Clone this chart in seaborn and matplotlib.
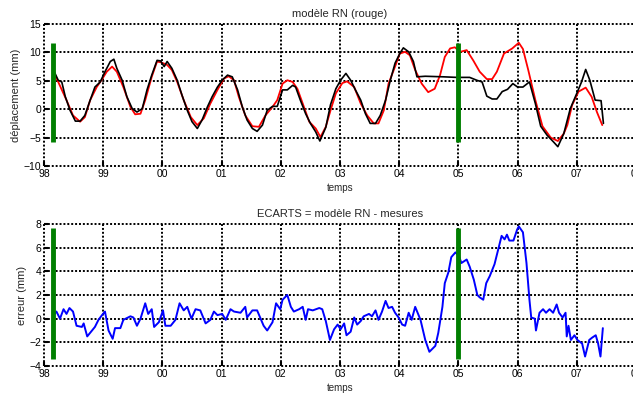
import matplotlib
matplotlib.use("Agg")
import matplotlib.pyplot as plt
import seaborn as sns
import pandas as pd

# time axis: years since 1998
x_tick_pos = list(range(0, 11))
x_tick_labels = ["98", "99", "00", "01", "02", "03", "04", "05", "06", "07", "08"]

# measured displacement (black)
t_mes = [0.16, 0.24, 0.30, 0.36, 0.44, 0.53, 0.61, 0.69, 0.78, 0.86, 0.95, 1.03, 1.12, 1.18, 1.23,
         1.32, 1.40, 1.49, 1.57, 1.66, 1.74, 1.82, 1.91, 1.97, 2.03, 2.08, 2.16, 2.25, 2.33, 2.42,
         2.50, 2.59, 2.67, 2.76, 2.84, 2.93, 3.01, 3.10, 3.18, 3.27, 3.35, 3.43, 3.52, 3.60, 3.69,
         3.77, 3.86, 3.94, 4.03, 4.11, 4.20, 4.25, 4.33, 4.42, 4.50, 4.59, 4.66, 4.76, 4.84, 4.93,
         5.01, 5.10, 5.18, 5.26, 5.35, 5.43, 5.51, 5.60, 5.68, 5.77, 5.85, 5.93, 6.01, 6.07, 6.16,
         6.24, 6.30, 6.44, 6.75, 6.97, 7.19, 7.31, 7.40, 7.48, 7.57, 7.65, 7.74, 7.83, 7.92, 8.00,
         8.09, 8.20, 8.30, 8.39, 8.50, 8.61, 8.68, 8.78, 8.89, 9.00, 9.08, 9.15, 9.22, 9.31, 9.41, 9.45]
y_mes = [6.9, 5.1, 4.8, 2.2, -0.2, -2.1, -2.1, -1.1, 1.6, 3.9, 4.8, 6.6, 8.4, 8.8, 7.2,
         5.1, 2.2, 0.1, -0.5, 0.1, 3.4, 6.0, 8.6, 8.5, 7.5, 8.4, 7.2, 5.1, 2.5, -0.2,
         -2.2, -3.4, -1.9, 0.4, 2.2, 3.9, 5.1, 6.0, 5.7, 3.4, 0.4, -1.9, -3.4, -3.9, -2.8,
         -0.2, 0.5, 0.5, 3.4, 3.4, 4.2, 3.9, 1.6, -0.8, -2.5, -4.0, -5.6, -3.2, 0.8, 3.6,
         5.1, 6.3, 5.1, 3.4, 1.6, -0.8, -2.5, -2.5, -1.1, 1.6, 5.1, 8.1, 9.8, 10.8, 10.1,
         8.4, 5.7, 5.8, 5.7, 5.6, 5.6, 5.1, 4.8, 2.3, 1.8, 1.8, 3.1, 3.5, 4.5, 3.9,
         3.9, 4.8, 1.0, -3.0, -4.6, -5.8, -6.6, -4.3, 0.1, 2.8, 4.8, 7.0, 5.1, 1.6, 1.5, -2.5]

# neural-network model (red)
t_mod = [0.16, 0.24, 0.38, 0.49, 0.61, 0.69, 0.78, 0.89, 0.97, 1.06, 1.15, 1.23, 1.34, 1.46, 1.54,
         1.63, 1.71, 1.82, 1.91, 1.99, 2.08, 2.16, 2.25, 2.36, 2.48, 2.59, 2.70, 2.81, 2.93, 3.04,
         3.12, 3.21, 3.29, 3.40, 3.52, 3.63, 3.74, 3.86, 3.94, 4.03, 4.11, 4.20, 4.28, 4.37, 4.48,
         4.59, 4.67, 4.76, 4.84, 4.93, 5.04, 5.12, 5.24, 5.35, 5.46, 5.57, 5.65, 5.74, 5.82, 5.93,
         6.01, 6.10, 6.18, 6.27, 6.38, 6.49, 6.60, 6.69, 6.77, 6.86, 6.94, 7.03, 7.14, 7.25, 7.36,
         7.48, 7.57, 7.65, 7.77, 7.91, 8.02, 8.09, 8.18, 8.30, 8.42, 8.56, 8.68, 8.78, 8.84, 8.92,
         9.03, 9.15, 9.25, 9.34, 9.43]
y_mod = [6.6, 4.8, 1.6, -1.1, -2.2, -1.4, 1.6, 3.9, 5.1, 6.6, 7.5, 6.6, 3.9, 0.4, -0.9,
         -0.8, 1.6, 5.7, 8.4, 8.2, 7.8, 6.9, 4.8, 1.6, -1.4, -2.8, -1.6, 1.0, 3.4, 5.4,
         5.8, 5.1, 2.2, -1.1, -3.0, -3.1, -1.1, 0.4, 1.6, 4.5, 5.1, 4.8, 3.6, 1.0, -2.2,
         -3.4, -4.9, -3.1, -0.2, 2.8, 4.6, 4.9, 3.9, 1.0, -1.1, -2.5, -2.5, -0.2, 4.5, 7.5,
         9.8, 10.1, 9.5, 6.9, 4.5, 3.0, 3.6, 6.0, 9.2, 10.7, 10.9, 10.1, 10.4, 8.6, 6.6,
         5.3, 5.3, 6.6, 9.8, 10.7, 11.7, 10.6, 6.9, 1.6, -3.0, -5.0, -5.6, -4.3, -2.8, 0.7,
         3.1, 3.8, 2.2, -0.5, -2.8]

# model - measurement (blue)
t_err = [0.16, 0.21, 0.27, 0.33, 0.38, 0.43, 0.49, 0.55, 0.64, 0.67, 0.73, 0.81, 0.86, 0.92, 0.98,
         1.03, 1.09, 1.16, 1.20, 1.29, 1.34, 1.46, 1.51, 1.57, 1.63, 1.71, 1.76, 1.82, 1.86, 1.94,
         2.01, 2.05, 2.14, 2.22, 2.29, 2.36, 2.42, 2.49, 2.56, 2.64, 2.73, 2.81, 2.87, 2.93, 3.01,
         3.07, 3.15, 3.21, 3.32, 3.40, 3.43, 3.52, 3.60, 3.71, 3.77, 3.86, 3.92, 3.99, 4.03, 4.11,
         4.17, 4.22, 4.31, 4.37, 4.42, 4.46, 4.54, 4.65, 4.70, 4.76, 4.83, 4.90, 4.96, 5.01, 5.07,
         5.11, 5.18, 5.24, 5.29, 5.35, 5.40, 5.49, 5.54, 5.60, 5.65, 5.71, 5.77, 5.82, 5.88, 5.93,
         5.99, 6.05, 6.10, 6.16, 6.21, 6.27, 6.36, 6.44, 6.51, 6.61, 6.66, 6.73, 6.77, 6.83, 6.88,
         6.95, 7.01, 7.05, 7.14, 7.19, 7.26, 7.32, 7.36, 7.42, 7.47, 7.53, 7.61, 7.67, 7.73, 7.78,
         7.82, 7.86, 7.93, 7.99, 8.02, 8.09, 8.15, 8.20, 8.23, 8.29, 8.31, 8.37, 8.43, 8.48, 8.54,
         8.60, 8.66, 8.70, 8.76, 8.81, 8.83, 8.86, 8.90, 8.96, 9.01, 9.09, 9.14, 9.21, 9.26, 9.32,
         9.36, 9.40, 9.44]
y_err = [0.3, 0.6, 0.0, 0.8, 0.4, 0.9, 0.6, -0.6, -0.7, -0.4, -1.5, -1.0, -0.7, -0.1, 0.3,
         0.6, -1.0, -1.7, -0.8, -0.8, -0.1, 0.2, 0.1, -0.6, 0.0, 1.3, 0.4, 0.8, -0.7, -0.3,
         0.7, -0.6, -0.6, -0.1, 1.3, 0.7, 1.0, 0.0, 0.8, 0.7, -0.4, -0.1, 0.6, 0.3, 0.4,
         -0.1, 0.8, 0.6, 0.5, 1.0, 0.1, 0.7, 0.7, -0.6, -1.0, -0.3, 1.3, 0.8, 1.6, 2.0,
         1.0, 0.6, 0.8, 1.0, -0.1, 0.8, 0.7, 0.9, 0.8, -0.2, -1.8, -0.9, -0.5, -0.9, -0.4,
         -1.4, -1.1, 0.1, -0.5, -0.2, 0.2, 0.4, 0.2, 0.7, -0.1, 0.6, 1.5, 0.9, 1.0, 0.5,
         0.1, -0.5, -0.6, 0.5, -0.1, 1.0, -0.1, -1.8, -2.8, -2.3, -1.2, 1.0, 3.0, 3.9, 5.2,
         5.6, 5.3, 4.7, 5.0, 4.4, 3.3, 2.0, 1.8, 1.6, 3.0, 3.6, 4.6, 5.8, 7.0, 6.7,
         7.1, 6.6, 6.6, 7.5, 7.8, 7.3, 4.7, 1.6, 0.1, 0.0, -1.0, 0.5, 0.8, 0.5, 0.8,
         0.5, 1.2, 0.5, 0.1, 0.5, -1.5, -0.6, -1.8, -1.4, -1.8, -2.1, -3.2, -1.8, -1.6, -1.4,
         -2.1, -3.2, -0.8]

# green vertical markers
green_x = [0.15, 7.0]
green_top_lo = [-5.8, -5.8]
green_top_hi = [11.6, 11.6]
green_bot_lo = [-3.4, -3.4]
green_bot_hi = [7.7, 7.7]

sns.set_theme(style="white")
plt.rcParams["font.family"] = ["Liberation Sans", "DejaVu Sans"]

fig = plt.figure(figsize=(6.33, 3.94), dpi=100)
ax1 = fig.add_axes([44 / 633, 1 - 166 / 394, 592 / 633, 142 / 394])
ax2 = fig.add_axes([44 / 633, 1 - 366 / 394, 592 / 633, 142 / 394])

df_mes = pd.DataFrame({"t": t_mes, "v": y_mes})
df_mod = pd.DataFrame({"t": t_mod, "v": y_mod})
df_err = pd.DataFrame({"t": t_err, "v": y_err})

DOT = (0, (1, 1))


def style_axes(ax, yticks):
    ax.set_xlim(0, 10)
    ax.set_ylim(yticks[0], yticks[-1])
    ax.set_xticks(x_tick_pos)
    ax.set_xticklabels(x_tick_labels)
    ax.set_yticks(yticks)
    ax.grid(True, color="black", linestyle=DOT, linewidth=1.4, clip_on=False)
    for s in ax.spines.values():
        s.set_visible(False)
    ax.tick_params(axis="both", direction="in", length=3, width=1.5, colors="black",
                   labelsize=7.5, pad=2, bottom=True, left=True)
    ax.set_xlabel("temps", fontsize=7, labelpad=3)


sns.lineplot(data=df_mod, x="t", y="v", ax=ax1, color="#ff0000", linewidth=1.3,
             estimator=None, sort=False)
sns.lineplot(data=df_mes, x="t", y="v", ax=ax1, color="black", linewidth=1.2,
             estimator=None, sort=False)
ax1.vlines(green_x, green_top_lo, green_top_hi, color="#007f00", linewidth=3.5, zorder=5)
style_axes(ax1, [-10, -5, 0, 5, 10, 15])
ax1.set_ylabel("déplacement (mm)", fontsize=8, labelpad=2)
ax1.set_title("modèle RN (rouge)", fontsize=8, pad=5)

sns.lineplot(data=df_err, x="t", y="v", ax=ax2, color="#0000ff", linewidth=1.4,
             estimator=None, sort=False)
ax2.vlines(green_x, green_bot_lo, green_bot_hi, color="#007f00", linewidth=3.5, zorder=5)
style_axes(ax2, [-4, -2, 0, 2, 4, 6, 8])
ax2.set_ylabel("erreur (mm)", fontsize=8, labelpad=2)
ax2.set_title("ECARTS = modèle RN - mesures", fontsize=8, pad=5)

fig.savefig("out.png", dpi=100)
